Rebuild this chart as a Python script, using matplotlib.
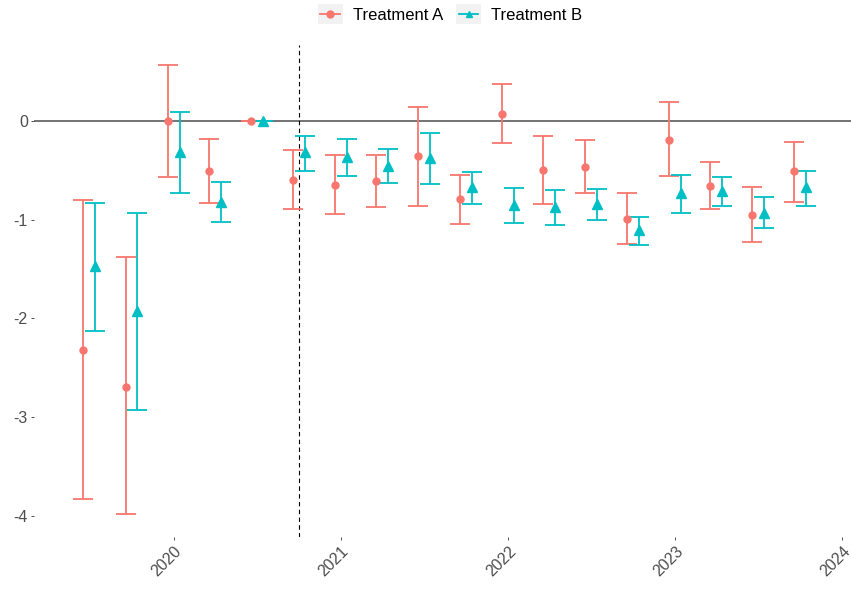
import pandas as pd
import matplotlib
matplotlib.use('Agg')
from matplotlib import pyplot as plt
from matplotlib.legend_handler import HandlerBase
from matplotlib.lines import Line2D
from matplotlib.patches import Rectangle
import matplotlib.dates as mdates

plt.rcParams['font.family'] = ['Liberation Sans', 'DejaVu Sans']

quarters = ['2019-07-01', '2019-10-01', '2020-01-01', '2020-04-01', '2020-07-01', '2020-10-01',
            '2021-01-01', '2021-04-01', '2021-07-01', '2021-10-01', '2022-01-01', '2022-04-01',
            '2022-07-01', '2022-10-01', '2023-01-01', '2023-04-01', '2023-07-01', '2023-10-01']

est_a = [-2.32, -2.69, 0.00, -0.51, 0.00, -0.60, -0.65, -0.61, -0.36, -0.79, 0.07, -0.50,
         -0.47, -0.99, -0.19, -0.66, -0.95, -0.51]
lo_a = [-3.83, -3.98, -0.57, -0.83, 0.00, -0.89, -0.94, -0.87, -0.86, -1.04, -0.23, -0.84,
        -0.73, -1.25, -0.56, -0.89, -1.23, -0.82]
hi_a = [-0.80, -1.38, 0.56, -0.18, 0.00, -0.30, -0.35, -0.35, 0.135, -0.55, 0.37, -0.15,
        -0.195, -0.73, 0.19, -0.415, -0.67, -0.21]

est_b = [-1.47, -1.92, -0.32, -0.82, 0.00, -0.32, -0.37, -0.46, -0.38, -0.67, -0.85, -0.87,
         -0.84, -1.10, -0.73, -0.71, -0.93, -0.67]
lo_b = [-2.13, -2.93, -0.73, -1.02, 0.00, -0.51, -0.56, -0.63, -0.64, -0.84, -1.03, -1.05,
        -1.00, -1.26, -0.93, -0.86, -1.08, -0.86]
hi_b = [-0.83, -0.93, 0.085, -0.62, 0.00, -0.155, -0.18, -0.29, -0.125, -0.52, -0.68, -0.70,
        -0.69, -0.97, -0.55, -0.57, -0.77, -0.51]

treatment_date = '2020-10-01'
col_a = '#F8766D'
col_b = '#00BFC4'

dates = pd.to_datetime(quarters)
dodge = pd.Timedelta(days=13)


class KeyHandler(HandlerBase):
    def create_artists(self, legend, orig_handle, xdescent, ydescent, width, height, fontsize, trans):
        bg = Rectangle((-xdescent, -ydescent - 3), width, height + 6, facecolor='#F2F2F2',
                       edgecolor='none', transform=trans)
        yc = -ydescent + height / 2
        ln = Line2D([-xdescent + 2, -xdescent + width - 2], [yc, yc], color=orig_handle.get_color(),
                    lw=1.3, transform=trans)
        mk = Line2D([-xdescent + width / 2], [yc], marker=orig_handle.get_marker(), markersize=5,
                    color=orig_handle.get_color(), lw=0, transform=trans)
        return [bg, ln, mk]


fig = plt.figure(figsize=(8.51, 5.92), dpi=100)
ax = fig.add_axes([34 / 851, 1 - 537 / 592, 1 - 34 / 851, (537 - 45) / 592])

ax.axhline(0, color='#4D4D4D', lw=1.1, zorder=1)
ax.axvline(pd.Timestamp(treatment_date), color='black', lw=0.8, ls=(0, (4, 3)), zorder=1)

xa = dates - dodge
xb = dates + dodge
ea = [[e - l for e, l in zip(est_a, lo_a)], [h - e for e, h in zip(est_a, hi_a)]]
eb = [[e - l for e, l in zip(est_b, lo_b)], [h - e for e, h in zip(est_b, hi_b)]]
ax.errorbar(xa, est_a, yerr=ea, fmt='none', ecolor=col_a, elinewidth=1.3, capsize=7, capthick=1.3, zorder=2)
ax.errorbar(xb, est_b, yerr=eb, fmt='none', ecolor=col_b, elinewidth=1.3, capsize=7, capthick=1.3, zorder=2)
ax.plot(xa, est_a, 'o', color=col_a, markersize=5, zorder=3)
ax.plot(xb, est_b, '^', color=col_b, markersize=6.5, zorder=3)

ax.set_xlim(pd.Timestamp('2019-03-02'), pd.Timestamp('2024-01-20'))
ax.set_ylim(-4.21, 0.766)
ax.set_yticks([0, -1, -2, -3, -4])
ax.set_yticklabels(['0', '-1', '-2', '-3', '-4'])
ax.xaxis.set_major_locator(mdates.YearLocator())
ax.xaxis.set_major_formatter(mdates.DateFormatter('%Y'))
for s in ax.spines.values():
    s.set_visible(False)
ax.tick_params(axis='both', length=2.5, width=0.6, color='#333333', labelcolor='#4D4D4D', labelsize=11.5)
ax.tick_params(axis='y', pad=2)
ax.tick_params(axis='x', pad=2)
for lab in ax.get_xticklabels():
    lab.set_rotation(45)
    lab.set_ha('right')
    lab.set_rotation_mode('anchor')

handles = [Line2D([], [], color=col_a, marker='o'), Line2D([], [], color=col_b, marker='^')]
fig.legend(handles, ['Treatment A', 'Treatment B'], handler_map={Line2D: KeyHandler()},
           loc='center', bbox_to_anchor=(450 / 851, 1 - 15 / 592), ncol=2, frameon=False,
           fontsize=12, handlelength=1.5, handletextpad=0.6, columnspacing=0.8)

plt.savefig('out.png', dpi=100)
